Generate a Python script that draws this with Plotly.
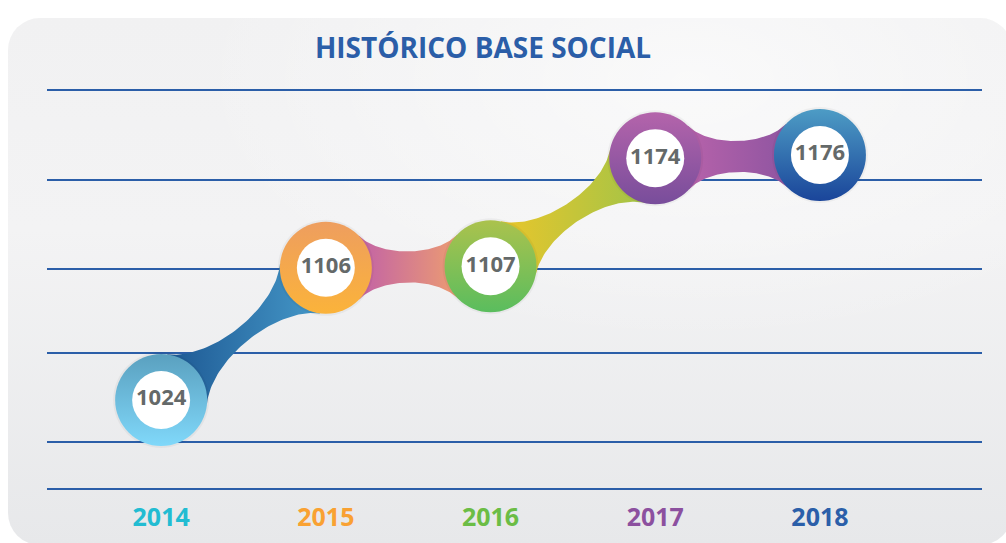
import base64
import numpy as np
import plotly.graph_objects as go

# ---------------- data ----------------
years = [2014, 2015, 2016, 2017, 2018]
members = [1024, 1106, 1107, 1174, 1176]
year_colors = ["#22bcd2", "#f9a132", "#6bbd45", "#8c509f", "#2b5fa9"]
ring_top = ["#5aa0bf", "#ee9e5f", "#abc24d", "#b464ab", "#4d9cc5"]
ring_bottom = ["#80d8fa", "#fbb33a", "#5abd5e", "#784d9b", "#1a459a"]
link_left = ["#1d5893", "#c262a6", "#e9c62b", "#b662aa"]
link_right = ["#4598c8", "#ec9c72", "#a3c447", "#8f55a1"]
title_text = "HISTÓRICO BASE SOCIAL"
grid_vals = [997.9, 1053.2, 1105.3, 1160.5, 1216.3]

# ---------------- layout constants (page pixels) ----------------
W, H = 1006, 543
L, R, T, B = 47, 24, 20, 55  # plot area edges
xr = [2013.307, 2018.984]
yr = [969.4, 1259.7]
pw, ph = W - L - R, H - T - B
sx = pw / (xr[1] - xr[0])
sy = ph / (yr[1] - yr[0])
BLUE = "#2b5ea8"
RAD = 46.0                   # ring radius in px
PHI = np.radians(44)
K = 0.31


def bezier(p0, p1, p2, p3, n=60):
    t = np.linspace(0, 1, n)[:, None]
    return ((1 - t) ** 3) * p0 + 3 * ((1 - t) ** 2) * t * p1 + 3 * (1 - t) * t * t * p2 + t ** 3 * p3


def bridge(xa, ya, xb, yb):
    A = np.array([xa * sx, ya * sy])
    Bp = np.array([xb * sx, yb * sy])
    d = Bp - A
    a = np.arctan2(d[1], d[0])
    u0 = a + PHI
    u3 = a + np.pi - PHI
    P0 = A + RAD * np.array([np.cos(u0), np.sin(u0)])
    P3 = Bp + RAD * np.array([np.cos(u3), np.sin(u3)])
    h = K * np.linalg.norm(P3 - P0)
    P1 = P0 + h * np.array([np.sin(u0), -np.cos(u0)])
    P2 = P3 + h * np.array([-np.sin(u3), np.cos(u3)])
    l0 = a - PHI
    l3 = a + np.pi + PHI
    Q0 = A + RAD * np.array([np.cos(l0), np.sin(l0)])
    Q3 = Bp + RAD * np.array([np.cos(l3), np.sin(l3)])
    hq = K * np.linalg.norm(Q3 - Q0)
    Q1 = Q0 + hq * np.array([-np.sin(l0), np.cos(l0)])
    Q2 = Q3 + hq * np.array([np.sin(l3), -np.cos(l3)])
    up = bezier(P0, P1, P2, P3)
    lo = bezier(Q0, Q1, Q2, Q3)[::-1]
    pts = np.vstack([up, lo, up[:1]])
    return pts[:, 0] / sx, pts[:, 1] / sy


fig = go.Figure()

for i in range(len(years) - 1):
    xs, ys = bridge(years[i], members[i], years[i + 1], members[i + 1])
    fig.add_trace(go.Scatter(
        x=xs, y=ys, mode="lines", fill="toself", line=dict(width=0),
        fillgradient=dict(type="horizontal",
                          colorscale=[[0, link_left[i]], [1, link_right[i]]]),
        hoverinfo="skip", showlegend=False))

# soft shadow
fig.add_trace(go.Scatter(
    x=years, y=members, mode="markers",
    marker=dict(size=96, color="rgba(0,0,0,0.04)", line=dict(width=0)),
    hoverinfo="skip", showlegend=False, cliponaxis=False))
# rings
fig.add_trace(go.Scatter(
    x=years, y=members, mode="markers",
    marker=dict(size=2 * RAD, color=ring_top,
                gradient=dict(type="vertical", color=ring_bottom),
                line=dict(width=0)),
    hoverinfo="skip", showlegend=False, cliponaxis=False))
# inner white
fig.add_trace(go.Scatter(
    x=years, y=members, mode="markers",
    marker=dict(size=58, color="white", line=dict(width=0)),
    hoverinfo="skip", showlegend=False, cliponaxis=False))
# values
fig.add_trace(go.Scatter(
    x=years, y=members, mode="text", text=[str(v) for v in members],
    textposition="middle center",
    textfont=dict(family="Open Sans", size=22, color="#646969", weight="bold"),
    hoverinfo="skip", showlegend=False, cliponaxis=False))

# panel background
svg = (
    "<svg xmlns='http://www.w3.org/2000/svg' width='1004' height='527' "
    "viewBox='0 0 1004 527' preserveAspectRatio='none'><defs>"
    "<linearGradient id='g' x1='0' y1='0' x2='0' y2='1'>"
    "<stop offset='0' stop-color='#f1f1f2'/><stop offset='0.4' stop-color='#f3f3f4'/>"
    "<stop offset='1' stop-color='#e7e8ea'/></linearGradient>"
    "<radialGradient id='r' cx='0.68' cy='0.12' r='0.5'>"
    "<stop offset='0' stop-color='#ffffff' stop-opacity='0.6'/>"
    "<stop offset='1' stop-color='#ffffff' stop-opacity='0'/></radialGradient>"
    "</defs>"
    "<rect x='0' y='0' width='1004' height='527' rx='32' ry='32' fill='url(#g)'/>"
    "<rect x='0' y='0' width='1004' height='527' rx='32' ry='32' fill='url(#r)'/>"
    "</svg>"
)
src = "data:image/svg+xml;base64," + base64.b64encode(svg.encode()).decode()
px0, py0, px1, py1 = 8, 18, 1012, 545
fig.add_layout_image(dict(
    source=src, xref="paper", yref="paper",
    x=(px0 - L) / pw, y=(H - B - py0) / ph,
    sizex=(px1 - px0) / pw, sizey=(py1 - py0) / ph,
    xanchor="left", yanchor="top", sizing="stretch", layer="below"))

ticktext = [f"<span style='color:{c}'>{y}</span>" for y, c in zip(years, year_colors)]

fig.update_layout(
    width=W, height=H,
    margin=dict(l=L, r=R, t=T, b=B, pad=0, autoexpand=False),
    paper_bgcolor="white", plot_bgcolor="rgba(0,0,0,0)",
    title=dict(text=title_text, x=483 / W, y=1 - 48 / H,
               xanchor="center", yanchor="middle",
               font=dict(family="Open Sans", size=28, color=BLUE, weight="bold")),
    xaxis=dict(range=xr, tickvals=years, ticktext=ticktext, showgrid=False,
               automargin=False,
               zeroline=False, showline=True, linecolor=BLUE, linewidth=2,
               ticks="outside", ticklen=6, tickcolor="rgba(0,0,0,0)",
               tickfont=dict(family="Open Sans", size=25, weight="bold")),
    yaxis=dict(range=yr, tickvals=grid_vals, showticklabels=False,
               automargin=False,
               showgrid=True, gridcolor=BLUE, gridwidth=2, zeroline=False,
               showline=False),
    hovermode=False,
)

fig.write_html(
    "out.html",
    config={"displayModeBar": False},
    post_script="document.body.style.margin='0px';document.body.style.overflow='hidden';",
)
